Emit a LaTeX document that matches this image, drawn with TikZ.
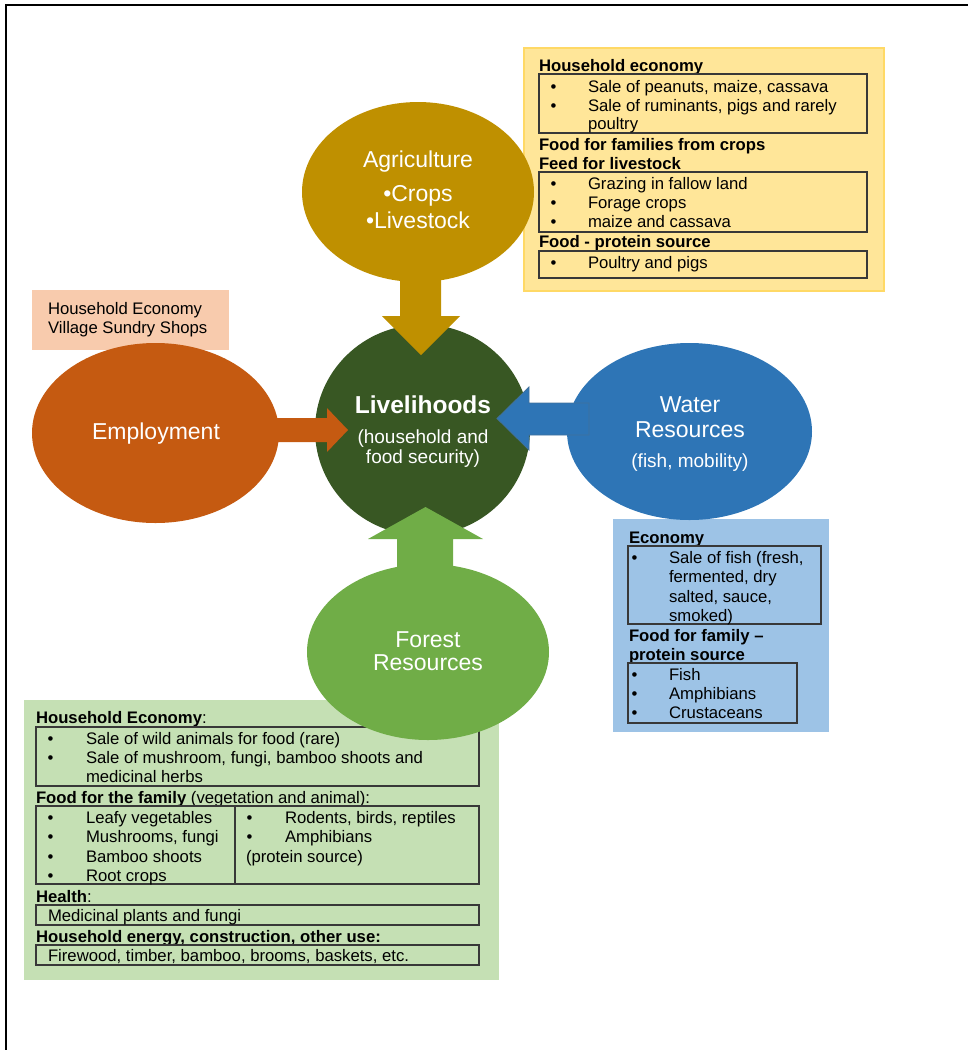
\documentclass[tikz,border=0pt]{standalone}
\usepackage{fontspec}
\setmainfont{Liberation Sans}
\usetikzlibrary{shapes.geometric}
\definecolor{agricol}{HTML}{BF9000}
\definecolor{livcol}{HTML}{385723}
\definecolor{empcol}{HTML}{C55A11}
\definecolor{watcol}{HTML}{2E75B6}
\definecolor{watline}{HTML}{41719C}
\definecolor{forcol}{HTML}{70AD47}
\definecolor{pinkbg}{HTML}{F8CBAD}
\definecolor{yelbg}{HTML}{FFE699}
\definecolor{yelline}{HTML}{FFD966}
\definecolor{bluebg}{HTML}{9DC3E6}
\definecolor{greenbg}{HTML}{C5E0B4}
\newcommand\fsbody{\fontsize{16.7}{19.3}\selectfont}
\newcommand\fsbig{\fontsize{23}{27}\selectfont}
\newcommand\fsmid{\fontsize{19}{22}\selectfont}
\newcommand\fsliv{\fontsize{24.5}{28}\selectfont\bfseries}
\newcommand\myline[4]{\node[tx] (#1) at (#2,#3) {#4};}
\begin{document}
\begin{tikzpicture}[x=1pt,y=-1pt,
  tx/.style={anchor=base west,inner sep=0pt,outer sep=0pt,font=\fsbody,text=black},
  hd/.style={tx,font=\fsbody\bfseries},
  ibox/.style={draw=black!78,line width=1.1pt},
  blob/.style={ellipse,inner sep=0pt,outer sep=0pt,draw=none},
  wt/.style={anchor=base,inner sep=0pt,text=white}]
\useasboundingbox (0,0) rectangle (968,1050);
% frame
\draw[line width=2.5pt] (968,5) -- (6,5) -- (6,1050);
% background boxes
\node[fill=yelbg,draw=yelline,line width=1.5pt,minimum width=360pt,minimum height=243pt,inner sep=0pt,anchor=north west] (ybox) at (523,47) {};
\node[fill=pinkbg,minimum width=197pt,minimum height=60pt,inner sep=0pt,anchor=north west] (pbox) at (32,290) {};
\node[fill=greenbg,minimum width=475pt,minimum height=280pt,inner sep=0pt,anchor=north west] (gbox) at (24,700) {};
\node[fill=bluebg,minimum width=216pt,minimum height=213pt,inner sep=0pt,anchor=north west] (bbox) at (613,519) {};
% yellow box contents
\node[hd] (y1) at (539,71) {Household economy};
\draw[ibox] (539,74) rectangle (867,133);
\node[tx] (y2b) at (550.5,92) {•};
\myline{y2}{588}{92}{Sale of peanuts, maize, cassava}
\node[tx] (y3b) at (550.5,111) {•};
\myline{y3}{588}{111}{Sale of ruminants, pigs and rarely}
\myline{y4}{588}{129.5}{poultry}
\node[hd] (y5) at (539,150) {Food for families from crops};
\node[hd] (y6) at (539,169) {Feed for livestock};
\draw[ibox] (539,172) rectangle (867,232);
\node[tx] (y7b) at (550.5,189) {•};
\myline{y7}{588}{189}{Grazing in fallow land}
\node[tx] (y8b) at (550.5,208) {•};
\myline{y8}{588}{208}{Forage crops}
\node[tx] (y9b) at (550.5,227) {•};
\myline{y9}{588}{227}{maize and cassava}
\node[hd] (y10) at (539,247.5) {Food - protein source};
\draw[ibox] (539,251) rectangle (867,278);
\node[tx] (y11b) at (550.5,268) {•};
\myline{y11}{588}{268}{Poultry and pigs}
% pink box contents
\myline{p1}{48}{314}{Household Economy}
\myline{p2}{48}{333}{Village Sundry Shops}
% green box contents
\node[tx] (g1) at (36,723) {\textbf{Household Economy}:};
\draw[ibox] (36,727) rectangle (479,786);
\node[tx] (g2b) at (47.5,744) {•};
\myline{g2}{86}{744}{Sale of wild animals for food (rare)}
\node[tx] (g3b) at (47.5,763) {•};
\myline{g3}{86}{763}{Sale of mushroom, fungi, bamboo shoots and}
\myline{g4}{86}{782.5}{medicinal herbs}
\node[tx] (g5) at (36,803) {\textbf{Food for the family} (vegetation and animal):};
\draw[ibox] (36,806) rectangle (479,884);
\draw[ibox] (235,806) -- (235,884);
\node[tx] (g6b) at (47.5,823) {•};
\myline{g6}{86}{823}{Leafy vegetables}
\node[tx] (g7b) at (47.5,842.5) {•};
\myline{g7}{86}{842.5}{Mushrooms, fungi}
\node[tx] (g8b) at (47.5,862) {•};
\myline{g8}{86}{862}{Bamboo shoots}
\node[tx] (g9b) at (47.5,881) {•};
\myline{g9}{86}{881}{Root crops}
\node[tx] (g10b) at (246.5,823) {•};
\myline{g10}{285}{823}{Rodents, birds, reptiles}
\node[tx] (g11b) at (246.5,842.5) {•};
\myline{g11}{285}{842.5}{Amphibians}
\myline{g12}{246}{862}{(protein source)}
\node[tx] (g13) at (36,902) {\textbf{Health}:};
\draw[ibox] (36,905) rectangle (479,925);
\myline{g14}{48}{921}{Medicinal plants and fungi}
\node[hd] (g15) at (36,942) {Household energy, construction, other use:};
\draw[ibox] (36,945) rectangle (479,965);
\myline{g16}{48}{961.5}{Firewood, timber, bamboo, brooms, baskets, etc.}
% blue box contents
\node[hd] (b1) at (629,543) {Economy};
\draw[ibox] (628,546) rectangle (821,624);
\node[tx] (b2b) at (631.5,563) {•};
\myline{b2}{669}{563}{Sale of fish (fresh,}
\myline{b3}{669}{582.5}{fermented, dry}
\myline{b4}{669}{602}{salted, sauce,}
\myline{b5}{669}{621}{smoked)}
\node[hd] (b6) at (629,641.5) {Food for family –};
\node[hd] (b7) at (629,660.5) {protein source};
\draw[ibox] (628,663) rectangle (797,723);
\node[tx] (b8b) at (631.5,680) {•};
\myline{b8}{669}{680}{Fish}
\node[tx] (b9b) at (631.5,699) {•};
\myline{b9}{669}{699}{Amphibians}
\node[tx] (b10b) at (631.5,718.5) {•};
\myline{b10}{669}{718.5}{Crustaceans}
% central circle
\node[blob,fill=livcol,minimum width=215pt,minimum height=211pt] (liv) at (422.5,430) {};
% outer ellipses
\node[blob,fill=agricol,minimum width=232pt,minimum height=180pt] (agri) at (418,192) {};
\node[blob,fill=empcol,minimum width=247pt,minimum height=180pt] (emp) at (155.5,433) {};
\node[blob,fill=watcol,minimum width=245pt,minimum height=177pt] (wat) at (689.5,431.5) {};
\node[blob,fill=forcol,minimum width=242pt,minimum height=176pt] (for) at (428,652) {};
% block arrows
\fill[agricol] (400,270) -- (441,270) -- (441,316) -- (460,316) -- (421,355) -- (382,316) -- (400,316) -- cycle;
\fill[empcol] (270,418) -- (327,418) -- (327,408) -- (348,430) -- (327,452) -- (327,442) -- (270,442) -- cycle;
\filldraw[fill=watcol,draw=watline,line width=0.8pt] (589,403) -- (529,403) -- (529,387) -- (497,418.5) -- (529,450) -- (529,435) -- (589,435) -- cycle;
\fill[forcol] (397,580) -- (397,539) -- (368,539) -- (425.5,507) -- (483,539) -- (453,539) -- (453,580) -- cycle;
% ellipse labels
\node[wt,font=\fsbig] (agri1) at (418,167) {Agriculture};
\node[wt,font=\fsbig] (agri2) at (418,201) {•Crops};
\node[wt,font=\fsbig] (agri3) at (418,228) {•Livestock};
\node[wt,font=\fsliv] (liv1) at (423,413) {Livelihoods};
\node[wt,font=\fsmid] (liv2) at (423,443) {(household and};
\node[wt,font=\fsmid] (liv3) at (423,463) {food security)};
\node[wt,font=\fsbig] (emp1) at (156,439) {Employment};
\node[wt,font=\fsbig] (wat1) at (690,412) {Water};
\node[wt,font=\fsbig] (wat2) at (690,437) {Resources};
\node[wt,font=\fsmid] (wat3) at (690,467) {(fish, mobility)};
\node[wt,font=\fsbig] (for1) at (428,647) {Forest};
\node[wt,font=\fsbig] (for2) at (428,670) {Resources};
\end{tikzpicture}
\end{document}
